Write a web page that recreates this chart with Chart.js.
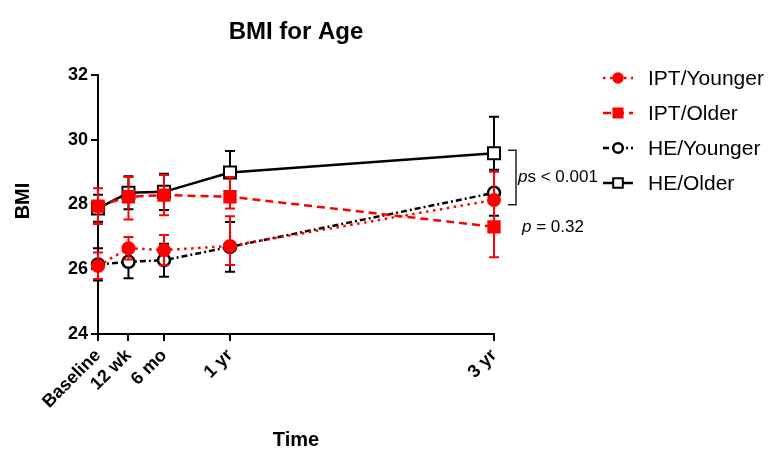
<!DOCTYPE html>
<html>
<head>
<meta charset="utf-8">
<title>BMI for Age</title>
<script src="https://cdn.jsdelivr.net/npm/chart.js@4.4.1/dist/chart.umd.min.js"></script>
<style>
  html, body { margin: 0; padding: 0; background: #fff; }
  #wrap { width: 768px; height: 449px; }
</style>
</head>
<body>
<div id="wrap"><canvas id="myChart" width="768" height="449"></canvas></div>
<script>
// time points in weeks, and their tick labels
var weeks = [0, 12, 26, 52, 156];
var tickLabels = ['Baseline', '12 wk', '6 mo', '1 yr', '3 yr'];

// mean BMI + error bar ends
var iptYounger   = [26.10, 26.65, 26.59, 26.72, 28.14];
var iptYoungerLo = [25.70, 26.30, 26.12, 26.13, 27.27];
var iptYoungerHi = [26.52, 27.00, 27.06, 27.64, 29.01];

var iptOlder   = [27.95, 28.24, 28.29, 28.24, 27.31];
var iptOlderLo = [27.40, 27.54, 27.67, 27.88, 26.37];
var iptOlderHi = [28.50, 28.85, 28.91, 28.85, 28.25];

var heYounger   = [26.15, 26.23, 26.28, 26.69, 28.36];
var heYoungerLo = [25.65, 25.72, 25.77, 25.92, 27.65];
var heYoungerHi = [26.65, 26.74, 26.79, 27.46, 29.07];

var heOlder   = [27.88, 28.36, 28.39, 28.99, 29.58];
var heOlderLo = [27.47, 27.85, 27.83, 28.33, 28.45];
var heOlderHi = [28.30, 28.87, 28.95, 29.65, 30.71];

var FONT = '"Liberation Sans", Arial, sans-serif';
var RED = '#ff0000';

function pts(vals) {
  return vals.map(function (v, i) { return { x: weeks[i], y: v }; });
}

// draw order in chart.js: last dataset first, so red ends on top
var series = [
  { label: 'IPT/Younger', data: iptYounger, lo: iptYoungerLo, hi: iptYoungerHi,
    color: RED, fill: RED, style: 'circle', r: 6, bw: 2, dash: [2.5, 4.5] },
  { label: 'IPT/Older', data: iptOlder, lo: iptOlderLo, hi: iptOlderHi,
    color: RED, fill: RED, style: 'rect', r: 8, bw: 2, dash: [8, 5] },
  { label: 'HE/Younger', data: heYounger, lo: heYoungerLo, hi: heYoungerHi,
    color: '#000', fill: '#fff', style: 'circle', r: 6, bw: 2.5, dash: [6, 3, 2, 3] },
  { label: 'HE/Older', data: heOlder, lo: heOlderLo, hi: heOlderHi,
    color: '#000', fill: '#fff', style: 'rect', r: 8.5, bw: 2, dash: [] }
];

function marker(ctx, s, x, y, scale) {
  var r = s.r * (scale || 1);
  ctx.save();
  ctx.setLineDash([]);
  ctx.fillStyle = s.fill;
  ctx.strokeStyle = s.color;
  ctx.lineWidth = s.bw;
  ctx.beginPath();
  if (s.style === 'circle') {
    ctx.arc(x, y, r, 0, Math.PI * 2);
  } else {
    var h = r * Math.SQRT1_2;
    ctx.rect(x - h, y - h, 2 * h, 2 * h);
  }
  ctx.fill();
  ctx.stroke();
  ctx.restore();
}

var errorBars = {
  id: 'errorBars',
  beforeDatasetDraw: function (chart, args) {
    var s = series[args.index];
    var ctx = chart.ctx;
    var xs = chart.scales.x, ys = chart.scales.y;
    ctx.save();
    ctx.strokeStyle = s.color;
    ctx.lineWidth = 2;
    ctx.setLineDash([]);
    for (var i = 0; i < weeks.length; i++) {
      var x = xs.getPixelForValue(weeks[i]);
      var y1 = ys.getPixelForValue(s.lo[i]);
      var y2 = ys.getPixelForValue(s.hi[i]);
      ctx.beginPath();
      ctx.moveTo(x, y1); ctx.lineTo(x, y2);
      ctx.moveTo(x - 5, y1); ctx.lineTo(x + 5, y1);
      ctx.moveTo(x - 5, y2); ctx.lineTo(x + 5, y2);
      ctx.stroke();
    }
    ctx.restore();
  }
};

var extras = {
  id: 'extras',
  afterDraw: function (chart) {
    var ctx = chart.ctx;
    var area = chart.chartArea;
    var xs = chart.scales.x, ys = chart.scales.y;
    ctx.save();
    ctx.fillStyle = '#000';

    // title + axis titles
    ctx.textAlign = 'center';
    ctx.textBaseline = 'middle';
    ctx.font = 'bold 24px ' + FONT;
    ctx.fillText('BMI for Age', (area.left + area.right) / 2, 32);
    ctx.font = 'bold 20px ' + FONT;
    ctx.fillText('Time', (area.left + area.right) / 2, 440);
    ctx.save();
    ctx.translate(23, 201);
    ctx.rotate(-Math.PI / 2);
    ctx.fillText('BMI', 0, 0);
    ctx.restore();

    // bracket + p values at 3 yr
    var xEnd = xs.getPixelForValue(weeks[4]);
    var yTop = ys.getPixelForValue(heOlder[4]) - 3;
    var yBot = ys.getPixelForValue(heYounger[4]) + 12;
    ctx.strokeStyle = '#222';
    ctx.lineWidth = 1.5;
    ctx.beginPath();
    ctx.moveTo(xEnd + 14, yTop); ctx.lineTo(xEnd + 22, yTop);
    ctx.lineTo(xEnd + 22, yBot); ctx.lineTo(xEnd + 14, yBot);
    ctx.stroke();

    ctx.textAlign = 'left';
    var tx = xEnd + 24, ty = (yTop + yBot) / 2;
    ctx.font = 'italic 17px ' + FONT;
    ctx.fillText('p', tx, ty);
    var w = ctx.measureText('p').width;
    ctx.font = '17px ' + FONT;
    ctx.fillText('s < 0.001', tx + w, ty);

    tx = xEnd + 28; ty = 227;
    ctx.font = 'italic 17px ' + FONT;
    ctx.fillText('p', tx, ty);
    w = ctx.measureText('p').width;
    ctx.font = '17px ' + FONT;
    ctx.fillText(' = 0.32', tx + w, ty);

    // legend
    ctx.font = '21px ' + FONT;
    series.forEach(function (s, i) {
      var ly = 78 + i * 35;
      ctx.save();
      ctx.strokeStyle = s.color;
      ctx.lineWidth = 2.5;
      ctx.setLineDash(s.dash);
      ctx.beginPath();
      ctx.moveTo(603, ly); ctx.lineTo(633, ly);
      ctx.stroke();
      ctx.restore();
      marker(ctx, s, 618, ly, 0.8);
      ctx.fillStyle = '#000';
      ctx.fillText(s.label, 648, ly + 1);
    });
    ctx.restore();
  }
};

var datasets = series.map(function (s) {
  return {
    label: s.label,
    data: pts(s.data),
    borderColor: s.color,
    backgroundColor: s.fill,
    borderWidth: 2.5,
    borderDash: s.dash,
    pointStyle: s.style,
    pointRadius: s.r,
    pointHoverRadius: s.r,
    pointBorderWidth: s.bw,
    pointBackgroundColor: s.fill,
    pointBorderColor: s.color,
    tension: 0,
    clip: false
  };
});

var ctx = document.getElementById('myChart');
var myChart = new Chart(ctx, {
  type: 'line',
  data: { datasets: datasets },
  plugins: [errorBars, extras],
  options: {
    responsive: false,
    animation: false,
    layout: { padding: { left: 0, top: 75, right: 274, bottom: 0 } },
    plugins: {
      legend: { display: false },
      title: { display: false },
      tooltip: { enabled: false }
    },
    scales: {
      x: {
        type: 'linear',
        min: 0,
        max: 156,
        afterBuildTicks: function (scale) {
          scale.ticks = weeks.map(function (v) { return { value: v }; });
        },
        afterFit: function (scale) { scale.height = 115; },
        ticks: {
          minRotation: 45,
          maxRotation: 45,
          autoSkip: false,
          padding: 4,
          color: '#000',
          font: { family: FONT, size: 18, weight: 'bold' },
          callback: function (value) { return tickLabels[weeks.indexOf(value)]; }
        },
        grid: { drawOnChartArea: false, drawTicks: true, tickLength: 7, color: '#000', lineWidth: 2 },
        border: { color: '#000', width: 2 }
      },
      y: {
        min: 24,
        max: 32,
        afterFit: function (scale) { scale.width = 98; },
        ticks: {
          stepSize: 2,
          padding: 3,
          color: '#000',
          font: { family: FONT, size: 18, weight: 'bold' }
        },
        grid: { drawOnChartArea: false, drawTicks: true, tickLength: 7, color: '#000', lineWidth: 2 },
        border: { color: '#000', width: 2 }
      }
    }
  }
});
</script>
</body>
</html>
